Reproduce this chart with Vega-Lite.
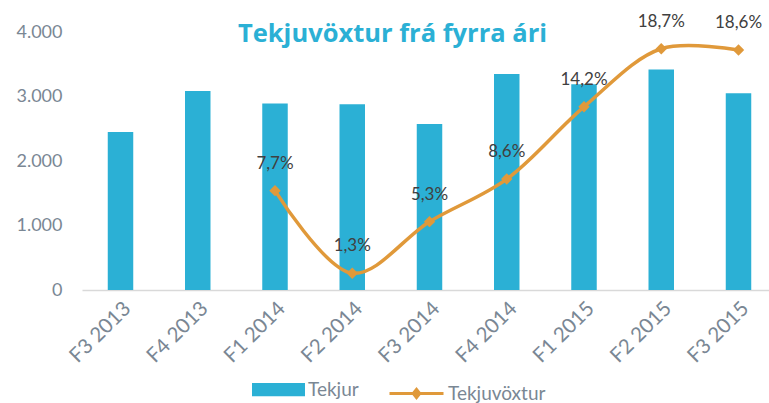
{
  "$schema": "https://vega.github.io/schema/vega-lite/v6.json",
  "width": 687,
  "height": 258,
  "autosize": {"type": "none"},
  "padding": {"left": 82, "top": 32, "right": 0, "bottom": 113},
  "background": "white",
  "title": {
    "text": "Tekjuvöxtur frá fyrra ári",
    "font": "Open Sans",
    "fontSize": 25.5,
    "fontWeight": "bold",
    "color": "#2BB0D5",
    "anchor": "middle",
    "frame": "group",
    "dx": -33,
    "offset": -55,
    "baseline": "alphabetic"
  },
  "config": {
    "locale": {"number": {"decimal": ",", "thousands": ".", "grouping": [3], "currency": ["", " kr."]}},
    "view": {"stroke": null}
  },
  "data": {
    "values": [
      {"q": "F3 2013", "tekjur": 2450, "vox": null},
      {"q": "F4 2013", "tekjur": 3085, "vox": null},
      {"q": "F1 2014", "tekjur": 2890, "vox": 0.077},
      {"q": "F2 2014", "tekjur": 2880, "vox": 0.013},
      {"q": "F3 2014", "tekjur": 2575, "vox": 0.053},
      {"q": "F4 2014", "tekjur": 3350, "vox": 0.086},
      {"q": "F1 2015", "tekjur": 3190, "vox": 0.142},
      {"q": "F2 2015", "tekjur": 3420, "vox": 0.187},
      {"q": "F3 2015", "tekjur": 3050, "vox": 0.186}
    ]
  },
  "encoding": {
    "x": {
      "field": "q",
      "type": "nominal",
      "sort": null,
      "scale": {"paddingInner": 0.67, "paddingOuter": 0.2816, "align": 0.592},
      "axis": {
        "title": null,
        "labelAngle": -45,
        "labelFont": "Lato",
        "labelFontSize": 20.5,
        "labelColor": "#7A8794",
        "labelPadding": 8,
        "ticks": false,
        "domainColor": "#D9D9D9",
        "domainWidth": 1.5,
        "grid": false
      }
    }
  },
  "layer": [
    {
      "mark": {"type": "bar"},
      "encoding": {
        "y": {
          "field": "tekjur",
          "type": "quantitative",
          "scale": {"domain": [0, 4000], "nice": false},
          "axis": {
            "title": null,
            "values": [0, 1000, 2000, 3000, 4000],
            "format": ",.0f",
            "labelFont": "Lato",
            "labelFontSize": 18,
            "labelColor": "#7A8794",
            "labelPadding": 20,
            "ticks": false,
            "domain": false,
            "grid": false
          }
        },
        "fill": {
          "datum": "Tekjur",
          "type": "nominal",
          "scale": {"range": ["#2BB0D5"]},
          "legend": {
            "orient": "none",
            "legendX": 170,
            "legendY": 331,
            "title": null,
            "symbolType": "M-1,-0.25H1V0.25H-1Z",
            "symbolSize": 2809,
            "symbolStrokeWidth": 0,
            "labelFont": "Lato",
            "labelFontSize": 19,
            "labelColor": "#7A8794",
            "labelOffset": 3
          }
        }
      }
    },
    {
      "transform": [{"filter": "isValid(datum.vox)"}],
      "encoding": {
        "y": {"field": "vox", "type": "quantitative", "scale": {"domain": [0, 0.2], "nice": false}, "axis": null}
      },
      "layer": [
        {
          "mark": {"type": "line", "interpolate": "catmull-rom", "strokeWidth": 3.5},
          "encoding": {
            "stroke": {
              "datum": "Tekjuvöxtur",
              "type": "nominal",
              "scale": {"range": ["#E0993A"]},
              "legend": {
                "orient": "none",
                "legendX": 306,
                "legendY": 333,
                "title": null,
                "symbolType": "M-1,0H1M-0.12,0L0,-0.15L0.12,0L0,0.15Z",
                "symbolSize": 2916,
                "symbolStrokeWidth": 3,
                "symbolFillColor": "#E0993A",
                "labelFont": "Lato",
                "labelFontSize": 19,
                "labelColor": "#7A8794",
                "labelOffset": 3
              }
            }
          }
        },
        {
          "mark": {"type": "point", "shape": "diamond", "filled": true, "size": 130, "color": "#E0993A", "opacity": 1},
          "encoding": {}
        },
        {
          "mark": {"type": "text", "dy": -27, "fontSize": 17, "color": "#404040", "font": "Lato", "baseline": "middle"},
          "encoding": {
            "text": {"field": "vox", "type": "quantitative", "format": ".1%"}
          }
        }
      ]
    }
  ],
  "resolve": {"scale": {"y": "independent"}}
}
